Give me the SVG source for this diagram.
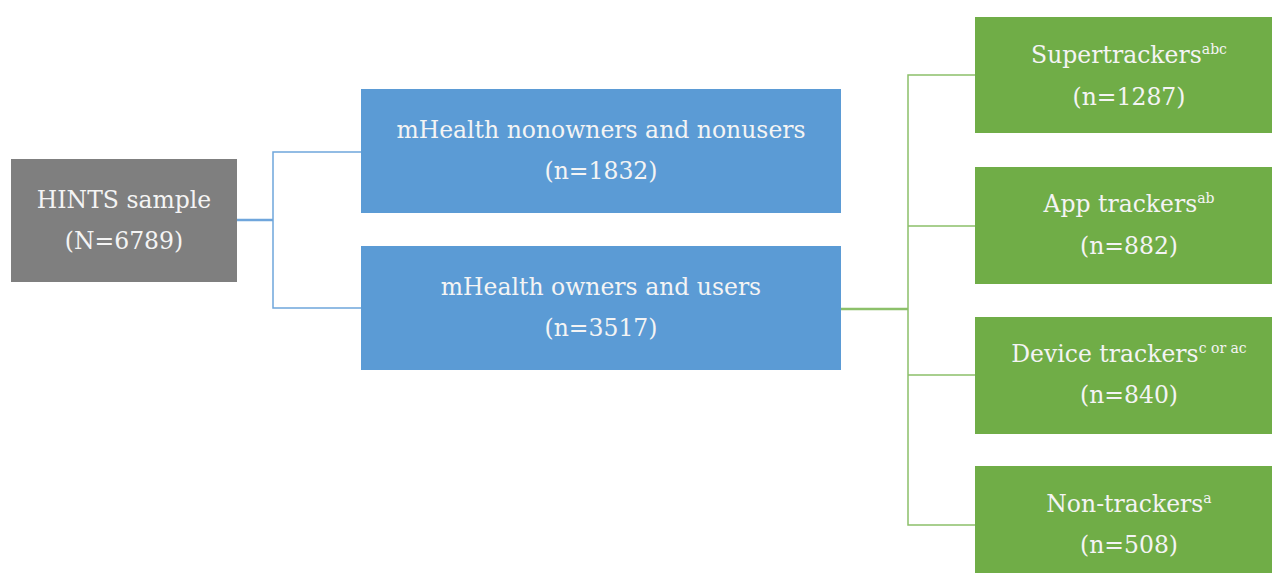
<svg xmlns="http://www.w3.org/2000/svg" width="1272" height="573" viewBox="0 0 1272 573">
<style>
text{font-family:"DejaVu Serif","Liberation Serif",serif;font-size:23.5px;fill:#f4f4f4;text-anchor:middle}
.sup{font-size:14px}
.grey{fill:#7f7f7f}
.blue{fill:#5b9bd5}
.green{fill:#70ad47}
.cb{stroke:#6fa6dc;stroke-width:1.5;fill:none}
.cg{stroke:#8cc06a;stroke-width:1.5;fill:none}
</style>
<rect width="1272" height="573" fill="#ffffff"/>
<g id="connectors">
<path class="cb" d="M237 220H273" style="stroke-width:2.5"/>
<path class="cb" d="M361 152H273V308H361"/>
<path class="cg" d="M841 309H908" style="stroke-width:2.5"/>
<path class="cg" d="M975 75H908V525H975M908 226H975M908 375H975"/>
</g>
<g id="hints">
<rect class="grey" x="11" y="159" width="226" height="123"/>
<text x="124" y="208">HINTS sample</text>
<text x="124" y="249">(N=6789)</text>
</g>
<g id="nonowners">
<rect class="blue" x="361" y="89" width="480" height="124"/>
<text x="601" y="138">mHealth nonowners and nonusers</text>
<text x="601" y="179">(n=1832)</text>
</g>
<g id="owners">
<rect class="blue" x="361" y="246" width="480" height="124"/>
<text x="601" y="295">mHealth owners and users</text>
<text x="601" y="336">(n=3517)</text>
</g>
<g id="supertrackers">
<rect class="green" x="975" y="17" width="310" height="116"/>
<text x="1129" y="63">Supertrackers<tspan class="sup" dy="-9">abc</tspan></text>
<text x="1129" y="105">(n=1287)</text>
</g>
<g id="apptrackers">
<rect class="green" x="975" y="167" width="310" height="117"/>
<text x="1129" y="212">App trackers<tspan class="sup" dy="-9">ab</tspan></text>
<text x="1129" y="254">(n=882)</text>
</g>
<g id="devicetrackers">
<rect class="green" x="975" y="317" width="310" height="117"/>
<text x="1129" y="362">Device trackers<tspan class="sup" dy="-9">c or ac</tspan></text>
<text x="1129" y="403">(n=840)</text>
</g>
<g id="nontrackers">
<rect class="green" x="975" y="466" width="310" height="120"/>
<text x="1129" y="512">Non-trackers<tspan class="sup" dy="-9">a</tspan></text>
<text x="1129" y="553">(n=508)</text>
</g>
</svg>
